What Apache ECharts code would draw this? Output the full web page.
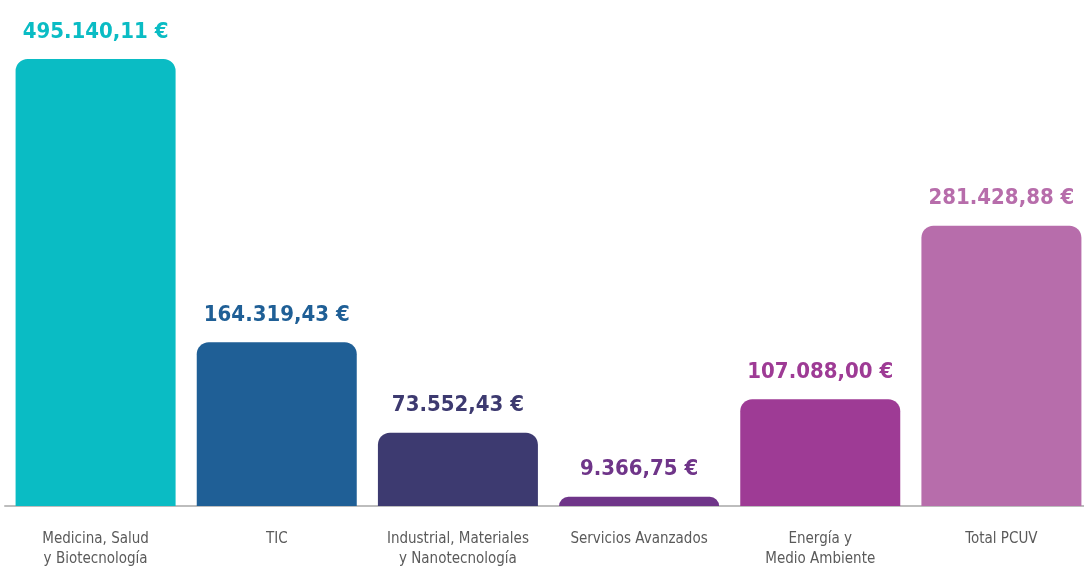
<!DOCTYPE html>
<html>
<head>
<meta charset="utf-8">
<title>Financiación por área</title>
<script src="https://cdn.jsdelivr.net/npm/echarts@6/dist/echarts.min.js"></script>
<style>
  html, body { margin: 0; padding: 0; background: #ffffff; overflow: hidden; }
  #chart { width: 1092px; height: 569px; }
</style>
</head>
<body>
<div id="chart"></div>
<script>
// Areas and funding amounts (euros)
const categories = [
  'Medicina, Salud\ny Biotecnología',
  'TIC',
  'Industrial, Materiales\ny Nanotecnología',
  'Servicios Avanzados',
  'Energía y\nMedio Ambiente',
  'Total PCUV'
];
const amounts = [495140.11, 164319.43, 73552.43, 9366.75, 107088.00, 281428.88];
const barColors = ['#0ABCC4', '#1F5F96', '#3D3A70', '#6F3589', '#9E3B95', '#B76DAB'];

// Spanish number format: 495.140,11 €
function formatEuro(v) {
  const parts = v.toFixed(2).split('.');
  const intPart = parts[0].replace(/\B(?=(\d{3})+(?!\d))/g, '.');
  return intPart + ',' + parts[1] + ' €';
}

const labelFont = '"DejaVu Sans Condensed", "Liberation Sans Narrow", "Roboto", sans-serif';

const chart = echarts.init(document.getElementById('chart'), null, { renderer: 'canvas' });

chart.setOption({
  animation: false,
  grid: { left: 5, right: 0, top: 59, bottom: 58, containLabel: false },
  xAxis: {
    type: 'category',
    data: categories,
    axisTick: { show: false },
    axisLine: { lineStyle: { color: '#BDBDBD', width: 2 } },
    axisLabel: {
      color: '#5A5A5A',
      fontFamily: labelFont,
      fontSize: 15,
      lineHeight: 20,
      margin: 23,
      interval: 0
    }
  },
  yAxis: {
    type: 'value',
    show: false,
    min: 0,
    max: 495140.11,
    splitLine: { show: false },
    // the largest area is drawn on a compressed scale above 300.000 €
    breaks: [{ start: 300000, end: 346400, gap: 0 }],
    breakArea: { show: false }
  },
  series: [{
    type: 'bar',
    barWidth: 160,
    clip: false,
    data: amounts.map((v, i) => ({
      value: v,
      itemStyle: { color: barColors[i] },
      label: { color: barColors[i] }
    })),
    itemStyle: { borderRadius: [12, 12, 0, 0] },
    label: {
      show: true,
      position: 'top',
      distance: 16,
      fontFamily: labelFont,
      fontWeight: 'bold',
      fontSize: 22,
      formatter: p => formatEuro(p.value)
    }
  }]
});
</script>
</body>
</html>
